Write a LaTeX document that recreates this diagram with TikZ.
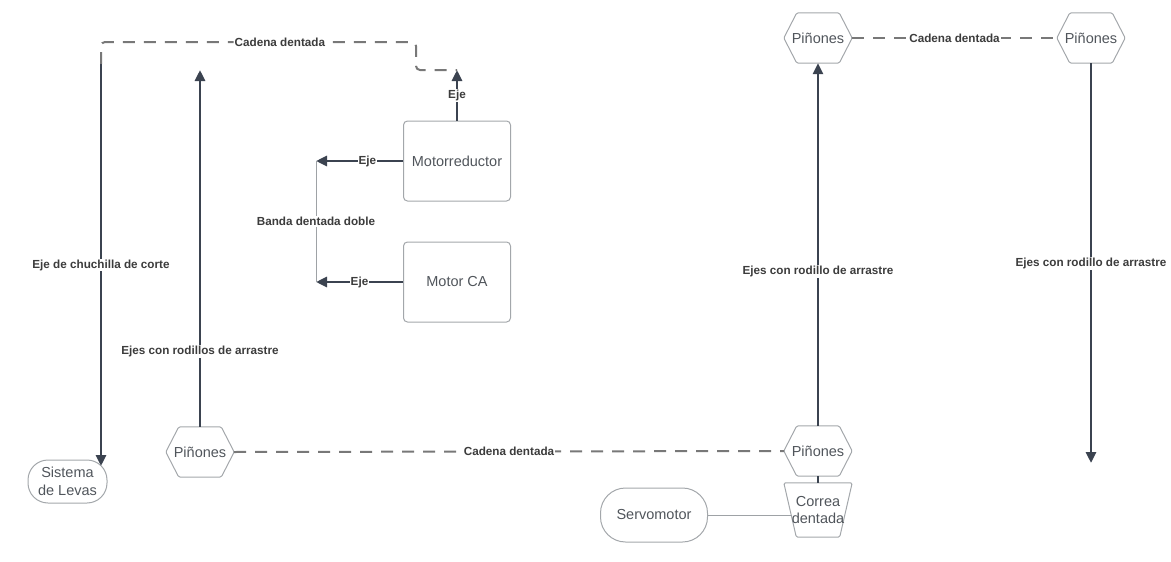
\documentclass[tikz,border=0pt]{standalone}
\usepackage{fontspec}
\setmainfont{Liberation Sans}
\usetikzlibrary{arrows.meta}
\definecolor{shaft}{HTML}{3B4350}
\definecolor{chaincol}{HTML}{787878}
\definecolor{thincol}{HTML}{9EA2A6}
\definecolor{boxline}{HTML}{A3A7AB}
\definecolor{boxtext}{HTML}{50555B}
\definecolor{lbltext}{HTML}{3C3C3C}
\tikzset{
  boxtxt/.style={font=\fontsize{14.5}{17.5}\selectfont, text=boxtext, align=center},
  blockbox/.style={boxtxt, draw=boxline, line width=1pt, rounded corners=4pt,
    minimum width=107pt, minimum height=80pt, inner sep=0pt},
  pill/.style={boxtxt, draw=boxline, line width=1pt, rounded corners=#1, inner sep=0pt},
  hexnode/.style={boxtxt, minimum width=68pt, minimum height=50pt, inner sep=0pt,
    append after command={\pgfextra{\draw[boxline, line width=1pt, rounded corners=1.5pt]
      (\tikzlastnode.west) -- ([xshift=13pt]\tikzlastnode.north west)
      -- ([xshift=-13pt]\tikzlastnode.north east) -- (\tikzlastnode.east)
      -- ([xshift=-13pt]\tikzlastnode.south east) -- ([xshift=13pt]\tikzlastnode.south west)
      -- cycle;}}},
  trapnode/.style={boxtxt, minimum width=68pt, minimum height=54pt, inner sep=0pt,
    append after command={\pgfextra{\draw[boxline, line width=1pt, rounded corners=1.5pt]
      (\tikzlastnode.north west) -- (\tikzlastnode.north east)
      -- ([xshift=-12.5pt]\tikzlastnode.south east) -- ([xshift=12.5pt]\tikzlastnode.south west)
      -- cycle;}}},
  lbl/.style={font=\bfseries\fontsize{11.7}{14}\selectfont, text=lbltext, fill=white, inner sep=1pt},
  shaftline/.style={draw=shaft, line width=2.8pt},
  shaftarrow/.style={shaftline, -{Triangle[length=11pt,width=10pt]}},
  thinline/.style={draw=thincol, line width=1pt},
  chain/.style={draw=chaincol, line width=2pt, dash pattern=on 12pt off 9pt},
}
\begin{document}
\begin{tikzpicture}[x=1pt,y=-1pt]
\useasboundingbox (0,0) rectangle (1171,562);

% blocks
\node[blockbox] (mred) at (457,161) {Motorreductor};
\node[blockbox] (mca) at (457,282) {Motor CA};
\node[pill=20pt, minimum width=79pt, minimum height=43pt] (levas) at (67.5,481.5) {Sistema\\de Levas};
\node[pill=25pt, minimum width=107pt, minimum height=54pt] (servo) at (654,515) {Servomotor};
\node[hexnode] (pinL) at (200,452) {Piñones};
\node[hexnode] (pinM) at (818,451) {Piñones};
\node[hexnode] (pinTL) at (818,38) {Piñones};
\node[hexnode] (pinTR) at (1091,38) {Piñones};
\node[trapnode] (corr) at (818,510) {Correa\\dentada};

% free ends and chain corners
\coordinate (cutTop) at (101,64);
\coordinate (levasIn) at (101,466);
\coordinate (chainTL) at (101,42);
\coordinate (chainTR) at (416,42);
\coordinate (chainBR) at (416,70);
\coordinate (ejeTop) at (457,70);
\coordinate (rollTop) at (200,70);
\coordinate (bandTop) at (316,161);
\coordinate (bandBot) at (316,282);
\coordinate (rightEnd) at (1091,463);

% toothed chains
\draw[chain, rounded corners=4pt] (cutTop) -- (chainTL)
  -- node[lbl, pos=0.568] (lchainA) {Cadena dentada} (chainTR) -- (chainBR) -- (ejeTop);
\draw[chain] (pinL.east) -- node[lbl] (lchainB) {Cadena dentada} (pinM.west);
\draw[chain] (pinTL.east) -- node[lbl] (lchainC) {Cadena dentada} (pinTR.west);

% shafts
\draw[shaftarrow] (cutTop) -- node[lbl, pos=0.5] (lcut) {Eje de chuchilla de corte} (levasIn);
\draw[shaftarrow] (pinL.north) -- node[lbl, pos=0.21] (lroll) {Ejes con rodillos de arrastre} (rollTop);
\draw[shaftarrow] (mred.north) -- node[lbl, pos=0.5] (lejeA) {Eje} (ejeTop);
\draw[shaftarrow] (mred.west) -- node[lbl, pos=0.41] (lejeB) {Eje} (bandTop);
\draw[shaftarrow] (mca.west) -- node[lbl, pos=0.5] (lejeC) {Eje} (bandBot);
\draw[shaftarrow] (pinM.north) -- node[lbl, pos=0.426] (lrollM) {Ejes con rodillo de arrastre} (pinTL.south);
\draw[shaftarrow] (pinTR.south) -- node[lbl, pos=0.5] (lrollR) {Ejes con rodillo de arrastre} (rightEnd);
\draw[shaftline] (pinM.south) -- (corr.north);

% belts
\draw[thinline] (bandTop) -- node[lbl] (lband) {Banda dentada doble} (bandBot);
\draw[thinline] (servo.east) -- ([xshift=8pt]servo.east -| corr.west);
\end{tikzpicture}
\end{document}
